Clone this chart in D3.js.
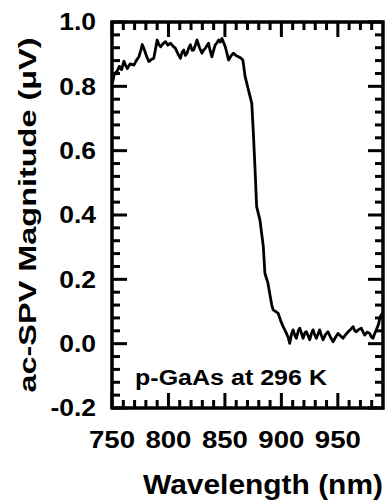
<!DOCTYPE html>
<html>
<head>
<meta charset="utf-8">
<script src="https://cdn.jsdelivr.net/npm/d3@7"></script>
<style>
  body { margin: 0; background: #fff; }
  text { font-family: "Liberation Sans", Arial, sans-serif; font-weight: bold; fill: #000; }
</style>
</head>
<body>
<div id="chart"></div>
<script>
// wavelength (nm) and ac-SPV magnitude (uV)
const wavelength = [
  750.5, 752, 754.7, 756.5, 758.5, 760.6, 762, 763.6, 766, 769.4,
  771.5, 773.8, 775.5, 776.8, 778.5, 779.7, 781, 782.6, 785, 787,
  788.5, 790, 791.5, 793, 795, 797.4, 799.5, 801.8, 804, 806.2,
  808.5, 810.6, 812, 813.5, 815, 816.5, 818, 819.4, 821, 822.3,
  824, 825.3, 827.5, 829.7, 831, 832.6, 834, 835.5, 837, 838.5,
  840, 841.4, 843, 844.4, 846, 847.4, 849, 850.3, 852, 853.2,
  855.5, 857.6, 860, 862, 864, 865.9, 867.9, 870.8, 873.8, 875.2,
  876.7, 878.1, 881, 884, 885.4, 888, 890, 891.5, 892.7, 895,
  897.2, 899.5, 901.6, 904.5, 906, 907.4, 909, 910.4, 912, 913.3,
  915, 916.3, 918, 919.2, 921, 922.1, 924, 925.1, 926.5, 928,
  929.5, 931, 932.5, 933.9, 935.5, 936.9, 939, 941.3, 943.5, 945.8,
  948, 950.2, 952.5, 954.6, 957, 959.1, 961.5, 963.5, 965, 966.4,
  968.5, 970.8, 972.5, 973.8, 976, 978.2, 979.5, 981.1, 982.5, 984.1,
  986, 987.5, 989.5
];
const magnitude = [
  0.812, 0.838, 0.848, 0.862, 0.852, 0.878, 0.866, 0.855, 0.870, 0.866,
  0.880, 0.892, 0.912, 0.930, 0.915, 0.903, 0.890, 0.877, 0.884, 0.887,
  0.915, 0.944, 0.930, 0.923, 0.932, 0.939, 0.928, 0.934, 0.925, 0.918,
  0.900, 0.887, 0.905, 0.913, 0.896, 0.903, 0.920, 0.929, 0.912, 0.913,
  0.930, 0.944, 0.920, 0.903, 0.912, 0.918, 0.926, 0.934, 0.910, 0.892,
  0.912, 0.929, 0.935, 0.944, 0.938, 0.949, 0.935, 0.923, 0.900, 0.882,
  0.895, 0.903, 0.895, 0.892, 0.888, 0.882, 0.830, 0.789, 0.747, 0.654,
  0.540, 0.426, 0.385, 0.302, 0.219, 0.190, 0.150, 0.120, 0.105, 0.100,
  0.094, 0.070, 0.053, 0.032, 0.020, 0.001, 0.030, 0.043, 0.025, 0.017,
  0.040, 0.048, 0.030, 0.017, 0.035, 0.037, 0.022, 0.012, 0.030, 0.043,
  0.028, 0.017, 0.030, 0.043, 0.025, 0.012, 0.028, 0.037, 0.020, 0.006,
  0.020, 0.032, 0.024, 0.017, 0.028, 0.037, 0.045, 0.053, 0.040, 0.037,
  0.044, 0.048, 0.035, 0.027, 0.036, 0.032, 0.022, 0.017, 0.030, 0.043,
  0.060, 0.084, 0.095
];

const xMajor = [750, 800, 850, 900, 950];
const xMinor = [760, 770, 780, 790, 810, 820, 830, 840, 860, 870, 880, 890, 910, 920, 930, 940, 960, 970, 980];
const yMajor = [-0.2, 0, 0.2, 0.4, 0.6, 0.8, 1.0];
const yMinor = [-0.16, -0.12, -0.08, -0.04, 0.04, 0.08, 0.12, 0.16, 0.24, 0.28, 0.32, 0.36,
  0.44, 0.48, 0.52, 0.56, 0.64, 0.68, 0.72, 0.76, 0.84, 0.88, 0.92, 0.96];

const W = 386, H = 501;
const plot = { left: 112, right: 383, top: 22, bottom: 408 };
const majorLen = 15, minorLen = 8;

const svg = d3.select("#chart").append("svg")
  .attr("width", W)
  .attr("height", H);

const x = d3.scaleLinear().domain([750, 990]).range([plot.left, plot.right]);
const y = d3.scaleLinear().domain([-0.2, 1.0]).range([plot.bottom, plot.top]);

// stretch text horizontally, the original font is wider than Arial
function widen(sel, k) {
  sel.each(function () {
    const w = this.getComputedTextLength();
    d3.select(this).attr("textLength", w * k).attr("lengthAdjust", "spacingAndGlyphs");
  });
}

// inward ticks on all four sides, drawn as filled rects
const tickG = svg.append("g").attr("fill", "#000");
function xTicks(vals, len) {
  tickG.append("g").selectAll("rect").data(vals).join("rect")
    .attr("x", (d) => x(d) - 1.5).attr("y", plot.bottom - len)
    .attr("width", 3).attr("height", len);
  tickG.append("g").selectAll("rect").data(vals).join("rect")
    .attr("x", (d) => x(d) - 1.5).attr("y", plot.top)
    .attr("width", 3).attr("height", len);
}
function yTicks(vals, len) {
  tickG.append("g").selectAll("rect").data(vals).join("rect")
    .attr("x", plot.left).attr("y", (d) => y(d) - 1.5)
    .attr("width", len).attr("height", 3);
  tickG.append("g").selectAll("rect").data(vals).join("rect")
    .attr("x", plot.right - len).attr("y", (d) => y(d) - 1.5)
    .attr("width", len).attr("height", 3);
}
xTicks(xMajor, majorLen);
xTicks(xMinor, minorLen);
yTicks(yMajor, majorLen);
yTicks(yMinor, minorLen);

// frame
svg.append("path")
  .attr("d", `M${plot.left},${plot.top}H${plot.right}V${plot.bottom}H${plot.left}Z`)
  .attr("fill", "none")
  .attr("stroke", "#000")
  .attr("stroke-width", 3.5);

// curve
svg.append("clipPath").attr("id", "clip")
  .append("rect").attr("x", plot.left).attr("y", plot.top)
  .attr("width", plot.right - plot.left).attr("height", plot.bottom - plot.top);

const line = d3.line()
  .x((d, i) => x(wavelength[i]))
  .y((d) => y(d));

svg.append("path")
  .datum(magnitude)
  .attr("clip-path", "url(#clip)")
  .attr("fill", "none")
  .attr("stroke", "#000")
  .attr("stroke-width", 2.8)
  .attr("stroke-linejoin", "round")
  .attr("d", line);

// tick labels
svg.append("g").selectAll("text").data(xMajor).join("text")
  .attr("x", (d) => x(d))
  .attr("y", 448)
  .attr("text-anchor", "middle")
  .style("font-size", "23px")
  .text((d) => d)
  .call(widen, 1.2);

svg.append("g").selectAll("text").data(yMajor).join("text")
  .attr("x", 96)
  .attr("y", (d) => y(d))
  .attr("dy", "0.36em")
  .attr("text-anchor", "end")
  .style("font-size", "23px")
  .text((d) => d.toFixed(1))
  .call(widen, 1.15);

// annotation
svg.append("text")
  .attr("x", 135).attr("y", 385)
  .style("font-size", "22px")
  .attr("textLength", 192).attr("lengthAdjust", "spacingAndGlyphs")
  .text("p-GaAs at 296 K");

// axis titles
svg.append("text")
  .attr("x", 263).attr("y", 494)
  .attr("text-anchor", "middle")
  .style("font-size", "27px")
  .attr("textLength", 240).attr("lengthAdjust", "spacingAndGlyphs")
  .text("Wavelength  (nm)");

svg.append("text")
  .attr("transform", `translate(36,${(plot.top + plot.bottom) / 2}) rotate(-90)`)
  .attr("text-anchor", "middle")
  .style("font-size", "23px")
  .attr("textLength", 355).attr("lengthAdjust", "spacingAndGlyphs")
  .text("ac-SPV Magnitude (\u03BCV)");
</script>
</body>
</html>
